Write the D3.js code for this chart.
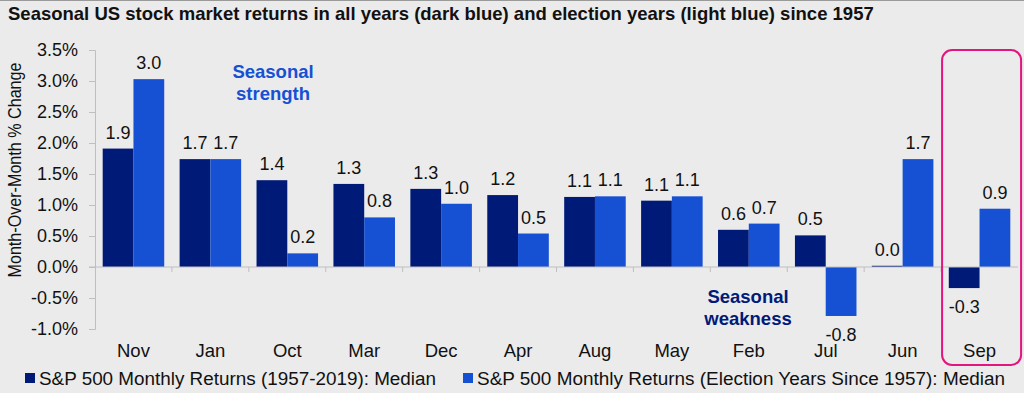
<!DOCTYPE html>
<html>
<head>
<meta charset="utf-8">
<script src="https://cdn.jsdelivr.net/npm/d3@7"></script>
<style>
  body { margin: 0; background: #ebebeb; }
  svg { display: block; font-family: Arial, "Liberation Sans", sans-serif; }
</style>
</head>
<body>
<div id="chart"></div>
<script>
// data
var months = ["Nov", "Jan", "Oct", "Mar", "Dec", "Apr", "Aug", "May", "Feb", "Jul", "Jun", "Sep"];
var allYears = [1.91, 1.74, 1.40, 1.34, 1.26, 1.16, 1.13, 1.07, 0.60, 0.51, 0.02, -0.34];
var electionYears = [3.03, 1.74, 0.22, 0.80, 1.02, 0.54, 1.14, 1.14, 0.70, -0.79, 1.74, 0.94];
var yTicks = [-1.0, -0.5, 0.0, 0.5, 1.0, 1.5, 2.0, 2.5, 3.0, 3.5];
var seriesNames = ["S&P 500 Monthly Returns (1957-2019): Median",
  "S&P 500 Monthly Returns (Election Years Since 1957): Median"];
var colors = ["#001a78", "#1650d3"];

var width = 1024, height = 393;
var plotLeft = 95, plotRight = 1018, plotTop = 50, plotBottom = 329;

var svg = d3.select('#chart')
  .append('svg')
  .attr('width', width)
  .attr('height', height);

svg.append('rect').attr('width', width).attr('height', height).attr('fill', '#ebebeb');
svg.append('line').attr('x1', 0).attr('x2', width).attr('y1', 0.5).attr('y2', 0.5)
  .attr('stroke', '#9a9a9a').attr('stroke-width', 1);

svg.append('text')
  .attr('x', 8).attr('y', 19.5)
  .attr('font-size', '18.5px').attr('font-weight', 'bold').attr('fill', '#111')
  .text('Seasonal US stock market returns in all years (dark blue) and election years (light blue) since 1957');

var x0 = d3.scaleBand().domain(months).range([plotLeft, plotRight]).paddingInner(0.2).paddingOuter(0.1);
var x1 = d3.scaleBand().domain([0, 1]).range([0, x0.bandwidth()]);
var y = d3.scaleLinear().domain([-1, 3.5]).range([plotBottom, plotTop]);

// y axis
var yAxis = svg.append('g')
  .attr('transform', 'translate(' + plotLeft + ',0)')
  .call(d3.axisLeft(y).tickValues(yTicks).tickSize(6).tickPadding(11)
    .tickFormat(function (d) { return d.toFixed(1) + '%'; }));
yAxis.selectAll('path, line').attr('stroke', '#bfbfbf');
yAxis.selectAll('text').attr('font-size', '18px').attr('fill', '#111')
  .attr('font-family', 'Arial, "Liberation Sans", sans-serif');

svg.append('text')
  .attr('transform', 'translate(21,170) rotate(-90)')
  .attr('text-anchor', 'middle')
  .attr('font-size', '17.5px').attr('fill', '#111')
  .attr('textLength', 215).attr('lengthAdjust', 'spacingAndGlyphs')
  .text('Month-Over-Month % Change');

// bars
var groups = svg.selectAll('g.month')
  .data(months)
  .enter().append('g')
  .attr('class', 'month')
  .attr('transform', function (d) { return 'translate(' + x0(d) + ',0)'; });

groups.each(function (m, i) {
  var vals = [allYears[i], electionYears[i]];
  var g = d3.select(this);
  g.selectAll('rect').data(vals).enter().append('rect')
    .attr('x', function (v, j) { return x1(j); })
    .attr('width', x1.bandwidth())
    .attr('y', function (v) { return y(Math.max(0, v)); })
    .attr('height', function (v) { return Math.abs(y(v) - y(0)); })
    .attr('fill', function (v, j) { return colors[j]; });
  g.selectAll('text').data(vals).enter().append('text')
    .attr('x', function (v, j) { return x1(j) + x1.bandwidth() / 2; })
    .attr('y', function (v) { return v >= 0 ? y(v) - 10 : y(v) + 25; })
    .attr('text-anchor', 'middle')
    .attr('font-size', '18px').attr('fill', '#111')
    .text(function (v) { return v.toFixed(1); });
});

// zero line with category ticks
var xAxis = svg.append('g')
  .attr('transform', 'translate(0,' + y(0) + ')');
xAxis.append('line').attr('x1', plotLeft - 6).attr('x2', plotRight).attr('stroke', '#bfbfbf');
xAxis.selectAll('line.tick')
  .data(months.slice(1))
  .enter().append('line')
  .attr('class', 'tick')
  .attr('x1', function (d) { return x0(d) - x0.step() * 0.1; })
  .attr('x2', function (d) { return x0(d) - x0.step() * 0.1; })
  .attr('y1', 0).attr('y2', 5)
  .attr('stroke', '#bfbfbf');

svg.selectAll('text.month')
  .data(months)
  .enter().append('text')
  .attr('class', 'month')
  .attr('x', function (d) { return x0(d) + x0.bandwidth() / 2; })
  .attr('y', 357)
  .attr('text-anchor', 'middle')
  .attr('font-size', '18.5px').attr('fill', '#111')
  .text(function (d) { return d; });

// annotations
var strength = svg.append('text')
  .attr('x', 273).attr('y', 78)
  .attr('text-anchor', 'middle')
  .attr('font-size', '18.5px').attr('font-weight', 'bold').attr('fill', colors[1]);
strength.append('tspan').attr('x', 273).text('Seasonal');
strength.append('tspan').attr('x', 273).attr('dy', 22).text('strength');

var weakness = svg.append('text')
  .attr('x', 748).attr('y', 303)
  .attr('text-anchor', 'middle')
  .attr('font-size', '18.5px').attr('font-weight', 'bold').attr('fill', colors[0]);
weakness.append('tspan').attr('x', 748).text('Seasonal');
weakness.append('tspan').attr('x', 748).attr('dy', 22).text('weakness');

// highlight box round September
svg.append('rect')
  .attr('x', x0('Sep') - x0.step() * 0.1 + 1).attr('y', 50)
  .attr('width', 79).attr('height', 315)
  .attr('rx', 10).attr('ry', 10)
  .attr('fill', 'none').attr('stroke', '#e3157f').attr('stroke-width', 2);

// legend
var legendX = [25, 463];
var legendLen = [397, 528];
var legend = svg.selectAll('g.legend')
  .data(seriesNames)
  .enter().append('g')
  .attr('class', 'legend')
  .attr('transform', function (d, i) { return 'translate(' + legendX[i] + ',378)'; });
legend.append('rect')
  .attr('x', 0).attr('y', -5).attr('width', 10).attr('height', 10)
  .attr('fill', function (d, i) { return colors[i]; });
legend.append('text')
  .attr('x', 14).attr('y', 6.5)
  .attr('font-size', '18px').attr('fill', '#111')
  .attr('textLength', function (d, i) { return legendLen[i]; })
  .attr('lengthAdjust', 'spacingAndGlyphs')
  .text(function (d) { return d; });
</script>
</body>
</html>
